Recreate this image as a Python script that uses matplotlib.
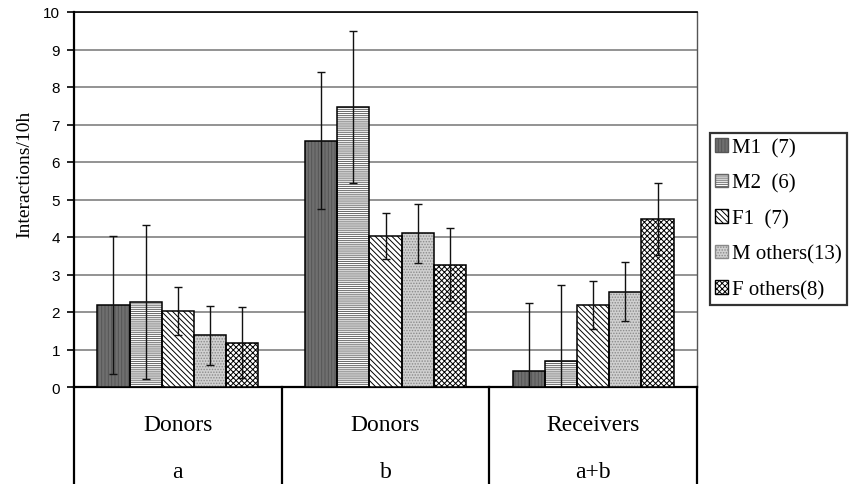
import matplotlib
matplotlib.use("Agg")
import matplotlib.pyplot as plt
from matplotlib.patches import Patch
import matplotlib.transforms as mtransforms
import numpy as np

groups_top = ["Donors", "Donors", "Receivers"]
groups_bottom = ["a", "b", "a+b"]
series = ["M1  (7)", "M2  (6)", "F1  (7)", "M others(13)", "F others(8)"]
means = {
    "M1  (7)":      [2.19, 6.57, 0.43],
    "M2  (6)":      [2.27, 7.46, 0.70],
    "F1  (7)":      [2.03, 4.03, 2.19],
    "M others(13)": [1.38, 4.10, 2.54],
    "F others(8)":  [1.18, 3.26, 4.48],
}
errors = {
    "M1  (7)":      [1.83, 1.82, 1.81],
    "M2  (6)":      [2.05, 2.03, 2.03],
    "F1  (7)":      [0.63, 0.62, 0.63],
    "M others(13)": [0.79, 0.79, 0.79],
    "F others(8)":  [0.95, 0.97, 0.96],
}
yticks = list(range(0, 11))

styles = [
    dict(face="#6f6f6f", hatch="|||||", hcol="#555555"),
    dict(face="#ffffff", hatch="--------", hcol="#666666"),
    dict(face="#ffffff", hatch="\\" * 6, hcol="#000000"),
    dict(face="#d0d0d0", hatch="......", hcol="#8a8a8a"),
    dict(face="#ffffff", hatch="xxxxxx", hcol="#000000"),
]

plt.rcParams["hatch.linewidth"] = 0.7
serif = ["Liberation Serif", "DejaVu Serif"]
sans = ["Liberation Sans", "DejaVu Sans"]

fig = plt.figure(figsize=(8.5, 4.85), dpi=100)
ax = fig.add_axes([74/850, 1-388/485, (697-74)/850, (388-13)/485])

x = np.arange(len(groups_top))
w = 0.155
for i, s in enumerate(series):
    st = styles[i]
    pos = x + (i - 2) * w
    ax.bar(pos, means[s], w, color=st["face"], hatch=st["hatch"],
           edgecolor=st["hcol"], linewidth=0, zorder=3)
    ax.bar(pos, means[s], w, fill=False, edgecolor="black", linewidth=1.1, zorder=4)
    ax.errorbar(pos, means[s], yerr=errors[s], fmt="none", ecolor="#111111",
                elinewidth=1.0, capsize=3, capthick=1.0, zorder=5)

ax.set_xlim(-0.5, 2.5)
ax.set_ylim(0, 10)
ax.set_yticks(yticks)
ax.set_yticklabels([str(t) for t in yticks], fontfamily=sans, fontsize=11)
ax.set_xticks([])
ax.yaxis.grid(True, color="#808080", linewidth=1.2, zorder=0)
ax.set_axisbelow(True)
ax.tick_params(axis="y", direction="out", length=5, width=1.2, pad=5)
for side in ["left", "bottom"]:
    ax.spines[side].set_linewidth(1.6)
ax.spines["top"].set_linewidth(1.2)
ax.spines["right"].set_linewidth(1.0)
ax.spines["right"].set_color("#555555")
ax.set_ylabel("Interactions/10h", fontfamily=serif, fontsize=14)
ax.yaxis.set_label_coords(-0.066, 0.57)

# category table below the axis
trans = mtransforms.blended_transform_factory(ax.transData, ax.transAxes)
ybot = -0.27
for xv in [-0.5, 0.5, 1.5, 2.5]:
    ax.plot([xv, xv], [0, ybot], color="black", linewidth=1.6,
            transform=trans, clip_on=False)
for xi, (t, b) in enumerate(zip(groups_top, groups_bottom)):
    ax.text(xi, -0.099, t, transform=trans, ha="center", va="center",
            fontfamily=serif, fontsize=17)
    ax.text(xi, -0.226, b, transform=trans, ha="center", va="center",
            fontfamily=serif, fontsize=17)

handles = [Patch(facecolor=st["face"], hatch=st["hatch"], edgecolor=st["hcol"])
           for st in styles]
leg = fig.legend(handles, series, loc="upper left",
                 bbox_to_anchor=(710/850, 1-134/485), frameon=True,
                 fancybox=False, shadow=False, handlelength=0.62,
                 handleheight=0.62, handletextpad=0.2, labelspacing=0.78,
                 borderpad=0.25, borderaxespad=0,
                 prop={"family": serif, "size": 15})
leg.get_frame().set_edgecolor("black")
leg.get_frame().set_linewidth(1.6)

fig.savefig("out.png", dpi=100)
